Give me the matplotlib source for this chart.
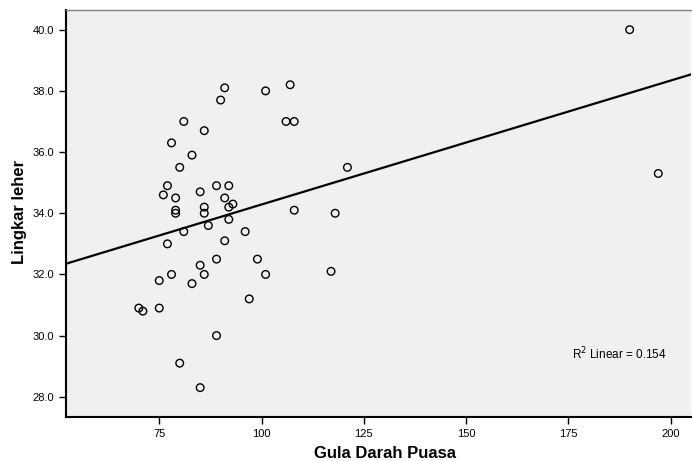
import numpy as np
import matplotlib
matplotlib.use("Agg")
import matplotlib.pyplot as plt

# Data
gula_darah_puasa = [91, 101, 107, 90, 81, 106, 108, 86, 78, 83, 80, 121, 77, 89, 92, 76,
                    85, 79, 91, 86, 92, 93, 79, 79, 86, 108, 118, 92, 87, 81, 96, 91,
                    77, 89, 99, 85, 78, 86, 101, 117, 75, 83, 97, 70, 71, 75, 89, 80,
                    85, 190, 197]
lingkar_leher = [38.1, 38.0, 38.2, 37.7, 37.0, 37.0, 37.0, 36.7, 36.3, 35.9, 35.5, 35.5,
                 34.9, 34.9, 34.9, 34.6, 34.7, 34.5, 34.5, 34.2, 34.2, 34.3, 34.1, 34.0,
                 34.0, 34.1, 34.0, 33.8, 33.6, 33.4, 33.4, 33.1, 33.0, 32.5, 32.5, 32.3,
                 32.0, 32.0, 32.0, 32.1, 31.8, 31.7, 31.2, 30.9, 30.8, 30.9, 30.0, 29.1,
                 28.3, 40.0, 35.3]
x_ticks = [75, 100, 125, 150, 175, 200]
y_ticks = [28.0, 30.0, 32.0, 34.0, 36.0, 38.0, 40.0]
r2_label = "R$^2$ Linear = 0.154"

plt.rcParams['font.family'] = ['Liberation Sans', 'DejaVu Sans']

fig = plt.figure(figsize=(6.92, 4.61), dpi=100)
ax = fig.add_axes([66/692, 1 - 417.3/461, 625/692, 407.8/461])
ax.set_facecolor('#F0F0F0')

xs = np.array(gula_darah_puasa, dtype=float)
ys = np.array(lingkar_leher, dtype=float)

ax.scatter(xs, ys, s=30, facecolors='none', edgecolors='black', linewidths=1.0, zorder=3)

xlim = (52.2, 205.0)
ylim = (27.33, 40.66)
slope, intercept = np.polyfit(xs, ys, 1)
lx = np.array(xlim)
ax.plot(lx, slope * lx + intercept, color='black', linewidth=1.6, zorder=2)

ax.set_xlim(*xlim)
ax.set_ylim(*ylim)
ax.set_xticks(x_ticks)
ax.set_yticks(y_ticks)
ax.set_yticklabels([f"{v:.1f}" for v in y_ticks])
ax.tick_params(axis='both', direction='out', length=5, width=1.0, labelsize=8, color='black')

for side in ['left', 'bottom']:
    ax.spines[side].set_linewidth(1.5)
    ax.spines[side].set_color('black')
ax.spines['top'].set_color('#808080')
ax.spines['top'].set_linewidth(1.0)
ax.spines['right'].set_visible(False)

ax.set_xlabel("Gula Darah Puasa", fontsize=12, fontweight='bold')
ax.set_ylabel("Lingkar leher", fontsize=12, fontweight='bold')
ax.yaxis.set_label_coords(-0.062, 0.503)
ax.xaxis.set_label_coords(0.51, -0.07)

ax.text(0.81, 0.155, r2_label, transform=ax.transAxes, fontsize=8.5, ha='left', va='center')

fig.savefig("out.png", dpi=100, facecolor='white')
